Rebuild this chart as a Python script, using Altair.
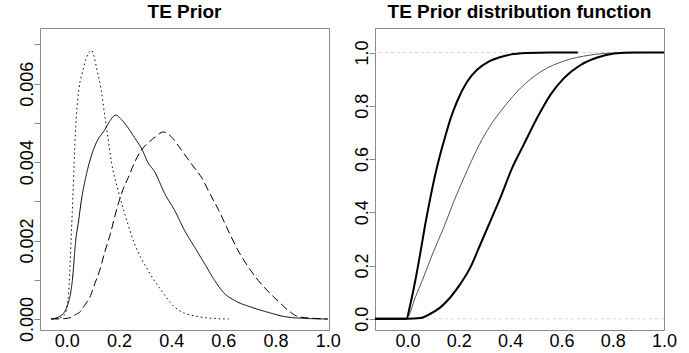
import altair as alt
import pandas as pd

# ---- left panel: prior densities ----
dot_x = [-0.06, -0.03, -0.01, 0.0, 0.008, 0.013, 0.018, 0.023, 0.028, 0.034, 0.047, 0.06, 0.072, 0.085,
         0.095, 0.104, 0.117, 0.13, 0.145, 0.158, 0.171, 0.197, 0.222, 0.26, 0.312, 0.363, 0.414, 0.45,
         0.49, 0.55, 0.62]
dot_y = [0, 0.00002, 0.0001, 0.0003, 0.0008, 0.0015, 0.0023, 0.0031, 0.0040, 0.0049, 0.0059, 0.0063,
         0.0066, 0.0068, 0.00685, 0.0067, 0.0063, 0.0059, 0.0052, 0.0046, 0.0040, 0.00327, 0.00268,
         0.00191, 0.00123, 0.00072, 0.0003, 0.00015, 0.00008, 0.00002, 0]

sol_x = [-0.06, -0.024, 0.002, 0.021, 0.034, 0.045, 0.055, 0.072, 0.091, 0.117, 0.143, 0.165, 0.187,
         0.207, 0.232, 0.26, 0.29, 0.31, 0.337, 0.375, 0.414, 0.452, 0.49, 0.529, 0.567, 0.6, 0.644,
         0.708, 0.772, 0.836, 0.9, 1.0]
sol_y = [0, 0.00008, 0.00034, 0.00098, 0.002, 0.0025, 0.0030, 0.0036, 0.0041, 0.00455, 0.0048, 0.00505,
         0.0052, 0.0051, 0.0049, 0.00462, 0.0043, 0.0040, 0.00375, 0.0032, 0.00276, 0.00225, 0.00183,
         0.0014, 0.00098, 0.00068, 0.00047, 0.0003, 0.00017, 0.00006, 0.00002, 0]

das_x = [-0.06, -0.01, 0.015, 0.03, 0.053, 0.068, 0.091, 0.107, 0.124, 0.145, 0.168, 0.183, 0.2, 0.215,
         0.235, 0.26, 0.285, 0.31, 0.34, 0.37, 0.4, 0.44, 0.478, 0.517, 0.548, 0.58, 0.619, 0.657, 0.696,
         0.734, 0.772, 0.811, 0.849, 0.887, 0.94, 1.0]
das_y = [0, 0.00001, 0.00004, 0.0001, 0.0002, 0.00035, 0.0006, 0.0009, 0.0012, 0.0017, 0.0022, 0.0026,
         0.003, 0.0033, 0.0036, 0.0040, 0.0043, 0.00448, 0.00465, 0.00477, 0.00465, 0.0043, 0.00395,
         0.0036, 0.0032, 0.0028, 0.00225, 0.00174, 0.00132, 0.00098, 0.0007, 0.00045, 0.00022, 0.00006,
         0.00002, 0]

# ---- right panel: distribution functions ----
cdfA_x = [-0.15, -0.005, 0.011, 0.03, 0.049, 0.069, 0.089, 0.108, 0.128, 0.147, 0.167, 0.193, 0.232,
          0.271, 0.316, 0.36, 0.40, 0.466, 0.55, 0.664]
cdfA_y = [0, 0, 0.056, 0.143, 0.243, 0.355, 0.455, 0.542, 0.62, 0.685, 0.75, 0.816, 0.89, 0.935, 0.966,
          0.982, 0.992, 0.998, 1.0, 1.0]

cdfB_x = [-0.15, -0.005, 0.03, 0.06, 0.1, 0.14, 0.18, 0.22, 0.26, 0.3, 0.34, 0.38, 0.44, 0.52, 0.61,
          0.71, 0.8, 1.0]
cdfB_y = [0, 0, 0.08, 0.15, 0.25, 0.34, 0.44, 0.53, 0.615, 0.69, 0.75, 0.80, 0.866, 0.928, 0.968, 0.99,
          0.998, 1.0]

cdfC_x = [-0.15, 0.0, 0.05, 0.089, 0.128, 0.167, 0.206, 0.245, 0.284, 0.323, 0.36, 0.408, 0.453, 0.505,
          0.557, 0.609, 0.675, 0.74, 0.805, 0.88, 1.0]
cdfC_y = [0, 0, 0.003, 0.019, 0.043, 0.081, 0.131, 0.193, 0.28, 0.367, 0.45, 0.567, 0.654, 0.754, 0.841,
          0.903, 0.953, 0.981, 0.996, 1.0, 1.0]

ref_levels = [0, 1]

left_yticks = [0, 0.001, 0.002, 0.003, 0.004, 0.005, 0.006, 0.007]
right_yticks = [0, 0.2, 0.4, 0.6, 0.8, 1.0]
xticks = [0, 0.2, 0.4, 0.6, 0.8, 1.0]

FONT = "Liberation Sans"
GRAY = "#8a8a8a"

common_axis = dict(grid=False, domain=False, title=None, tickColor=GRAY, labelFont=FONT,
                   labelFontSize=18, labelColor="black", labelFlush=False, labelOverlap=False)

xaxis = alt.Axis(values=xticks, format=".1f", tickSize=0, labelPadding=2, **common_axis)

yaxis_left = alt.Axis(values=left_yticks,
                      labelExpr="(round(datum.value*1000) % 2 == 0 && datum.value < 0.0065) ? format(datum.value, '.3f') : ''",
                      labelAngle=270, labelAlign="center", labelBaseline="alphabetic",
                      tickSize=6, labelPadding=2, **common_axis)
yaxis_right = alt.Axis(values=right_yticks, format=".1f",
                       labelAngle=270, labelAlign="center", labelBaseline="alphabetic",
                       tickSize=6, labelPadding=2, **common_axis)

xs_left = alt.Scale(domain=[-0.103, 1.005], nice=False, zero=False)
ys_left = alt.Scale(domain=[-0.00028, 0.00742], nice=False, zero=False)
xs_right = alt.Scale(domain=[-0.127, 1.0], nice=False, zero=False)
ys_right = alt.Scale(domain=[-0.042, 1.092], nice=False, zero=False)


def dens(xv, yv, dash):
    df = pd.DataFrame({"x": xv, "y": yv})
    m = alt.Chart(df).mark_line(color="black", strokeWidth=1.0, interpolate="monotone",
                                strokeDash=dash, clip=True)
    return m.encode(x=alt.X("x:Q", scale=xs_left, axis=xaxis),
                    y=alt.Y("y:Q", scale=ys_left, axis=yaxis_left))


left = alt.layer(
    dens(dot_x, dot_y, [1.5, 3]),
    dens(sol_x, sol_y, [1, 0]),
    dens(das_x, das_y, [8, 4]),
).properties(width=289, height=302,
             title=alt.Title("TE Prior", font=FONT, fontSize=19, fontWeight="bold", color="black", offset=6))

refdf = pd.DataFrame({"y": ref_levels})
refs = alt.Chart(refdf).mark_rule(color="#c8c8c8", strokeDash=[3, 3], strokeWidth=0.8).encode(
    y=alt.Y("y:Q", scale=ys_right, axis=yaxis_right))


def cdf(xv, yv, color, width):
    df = pd.DataFrame({"x": xv, "y": yv})
    return alt.Chart(df).mark_line(color=color, strokeWidth=width, interpolate="monotone", clip=True).encode(
        x=alt.X("x:Q", scale=xs_right, axis=xaxis),
        y=alt.Y("y:Q", scale=ys_right, axis=yaxis_right))


right = alt.layer(
    refs,
    cdf(cdfB_x, cdfB_y, "#555555", 1.0),
    cdf(cdfC_x, cdfC_y, "black", 2.0),
    cdf(cdfA_x, cdfA_y, "black", 2.0),
).properties(width=289, height=302,
             title=alt.Title("TE Prior distribution function", font=FONT, fontSize=19, fontWeight="bold",
                             color="black", offset=6))

chart = alt.hconcat(left, right, spacing=11).properties(
    padding={"left": 17, "top": 2, "right": 0, "bottom": 0}
).configure_view(stroke=GRAY, strokeWidth=1).configure_title(anchor="middle")

chart.save("out.html", embed_options={"renderer": "svg", "actions": False})
